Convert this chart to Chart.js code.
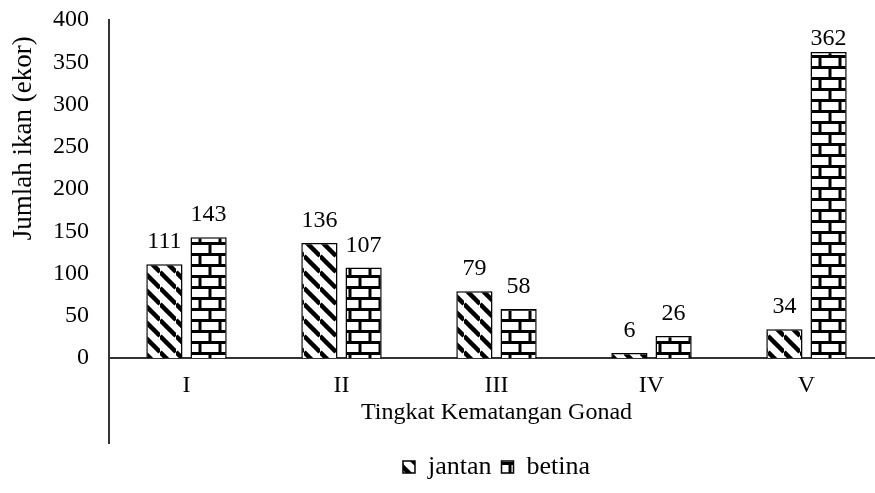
<!DOCTYPE html>
<html>
<head>
<meta charset="utf-8">
<script src="https://cdn.jsdelivr.net/npm/chart.js@4"></script>
<style>
  html, body { margin: 0; padding: 0; background: #fff; overflow: hidden; }
  #wrap { width: 890px; height: 493px; }
</style>
</head>
<body>
<div id="wrap"><canvas id="chart"></canvas></div>
<script>
const categories = ['I', 'II', 'III', 'IV', 'V']
const jantan = [111, 136, 79, 6, 34]
const betina = [143, 107, 58, 26, 362]
const seriesNames = ['jantan', 'betina']
const yTicks = [0, 50, 100, 150, 200, 250, 300, 350, 400]

const FONT = "'Liberation Serif', 'Times New Roman', serif"

// diagonal stripes for jantan
function stripePattern() {
    const c = document.createElement('canvas')
    const w = 16, h = 16
    c.width = w; c.height = h
    const g = c.getContext('2d')
    g.fillStyle = '#fff'
    g.fillRect(0, 0, w, h)
    g.strokeStyle = '#000'
    g.lineWidth = 4.5
    for (let k = -1; k <= 1; k++) {
        g.beginPath()
        g.moveTo(0, k * h)
        g.lineTo(w, h + k * h)
        g.stroke()
    }
    return g.createPattern(c, 'repeat')
}

// brick wall for betina
function brickPattern() {
    const c = document.createElement('canvas')
    const w = 20, h = 22, t = 3
    c.width = w; c.height = h
    const g = c.getContext('2d')
    g.fillStyle = '#fff'
    g.fillRect(0, 0, w, h)
    g.fillStyle = '#000'
    g.fillRect(0, 0, w, t)
    g.fillRect(0, h / 2, w, t)
    g.fillRect(w / 2 - t / 2, t, t, h / 2 - t)
    g.fillRect(0, h / 2 + t, t / 2, h / 2 - t)
    g.fillRect(w - t / 2, h / 2 + t, t / 2, h / 2 - t)
    return g.createPattern(c, 'repeat')
}

const valueLabels = {
    id: 'valueLabels',
    afterDatasetsDraw(chart) {
        const ctx = chart.ctx
        const top = chart.chartArea.top
        ctx.save()
        ctx.font = `24px ${FONT}`
        ctx.fillStyle = '#000'
        ctx.textAlign = 'center'
        ctx.textBaseline = 'alphabetic'
        chart.data.datasets.forEach((ds, i) => {
            chart.getDatasetMeta(i).data.forEach((bar, j) => {
                // keep the label inside the plot area, as the original does
                const y = Math.max(bar.y - 16, top + 25)
                ctx.fillText(String(ds.data[j]), bar.x, y)
            })
        })
        ctx.restore()
    }
}

// y title placed like the original, plus the left border of the category box
const extras = {
    id: 'extras',
    afterDraw(chart) {
        const ctx = chart.ctx
        const area = chart.chartArea
        const xScale = chart.scales.x
        ctx.save()
        ctx.strokeStyle = '#333'
        ctx.lineWidth = 2
        ctx.beginPath()
        ctx.moveTo(area.left, area.bottom)
        ctx.lineTo(area.left, xScale.bottom)
        ctx.stroke()

        ctx.translate(24, area.top + area.height * 0.35)
        ctx.rotate(-Math.PI / 2)
        ctx.font = `27px ${FONT}`
        ctx.fillStyle = '#000'
        ctx.textAlign = 'center'
        ctx.textBaseline = 'middle'
        ctx.fillText('Jumlah ikan (ekor)', 0, 0)
        ctx.restore()
    }
}

const ctx = document.getElementById('chart').getContext('2d')
new Chart(ctx, {
    type: 'bar',
    data: {
        labels: categories,
        datasets: [{
            label: seriesNames[0],
            data: jantan,
            backgroundColor: stripePattern(),
            borderColor: '#000',
            borderWidth: 1.5
        }, {
            label: seriesNames[1],
            data: betina,
            backgroundColor: brickPattern(),
            borderColor: '#000',
            borderWidth: 1.5
        }]
    },
    options: {
        responsive: true,
        maintainAspectRatio: false,
        animation: false,
        devicePixelRatio: 1,
        layout: { padding: { top: 20, right: 6, left: 0, bottom: 3 } },
        datasets: {
            bar: { categoryPercentage: 0.57, barPercentage: 0.82 }
        },
        plugins: {
            legend: {
                position: 'bottom',
                fullSize: false,
                labels: {
                    font: { family: FONT, size: 26 },
                    color: '#000',
                    boxWidth: 12,
                    boxHeight: 12,
                    padding: 10
                }
            },
            tooltip: { enabled: false }
        },
        scales: {
            x: {
                grid: { display: false },
                border: { display: true, color: '#333', width: 2 },
                ticks: {
                    color: '#000',
                    font: { family: FONT, size: 24 },
                    padding: 5
                },
                title: {
                    display: true,
                    text: 'Tingkat Kematangan Gonad',
                    color: '#000',
                    font: { family: FONT, size: 24 },
                    padding: { top: 0, bottom: 17 }
                },
                afterFit(scale) { scale.height = 86 }
            },
            y: {
                min: 0,
                max: 400,
                afterBuildTicks(scale) {
                    scale.ticks = yTicks.map(v => ({ value: v }))
                },
                grid: { display: false, drawTicks: false },
                border: { display: true, color: '#333', width: 2 },
                ticks: {
                    color: '#000',
                    font: { family: FONT, size: 24 },
                    padding: 20
                },
                afterFit(scale) {
                    scale.width = 109
                    scale.paddingTop = 0
                }
            }
        }
    },
    plugins: [valueLabels, extras]
})
</script>
</body>
</html>
